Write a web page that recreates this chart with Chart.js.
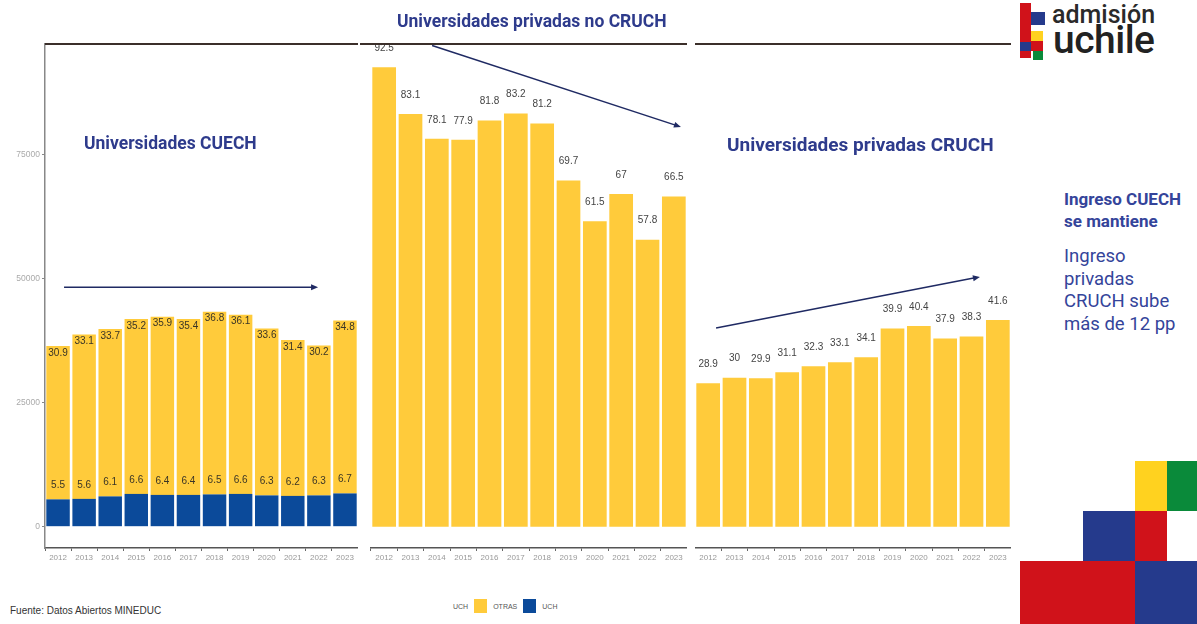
<!DOCTYPE html>
<html>
<head>
<meta charset="utf-8">
<script src="https://cdn.jsdelivr.net/npm/chart.js@4.4.1/dist/chart.umd.min.js"></script>
<style>
  body { margin: 0; width: 1197px; height: 624px; background: #fff; position: relative; overflow: hidden; font-family: Roboto, "Liberation Sans", sans-serif; }
  canvas { position: absolute; top: 0; }
  .titulo { position: absolute; font-weight: bold; color: #2e3b8c; white-space: nowrap; }
  .nota { position: absolute; left: 1064px; color: #34449a; white-space: nowrap; }
  .blk { position: absolute; }
  #fuente { position: absolute; left: 10px; top: 605px; font: 10px "Liberation Sans", Arial, sans-serif; color: #333; }
  #leyenda { position: absolute; left: 453px; top: 599px; font: 7px "Liberation Sans", Arial, sans-serif; color: #555; display: flex; align-items: center; gap: 6px; }
  #leyenda i { display: inline-block; width: 13px; height: 14px; }
</style>
</head>
<body>
<canvas id="g1" width="358" height="575" style="left:0px"></canvas>
<canvas id="g2" width="327" height="575" style="left:360px"></canvas>
<canvas id="g3" width="316" height="575" style="left:695px"></canvas>

<div class="titulo" style="left:84px;top:133px;font-size:17.5px">Universidades CUECH</div>
<div class="titulo" style="left:397px;top:11px;font-size:17.5px">Universidades privadas no CRUCH</div>
<div class="titulo" style="left:727px;top:133px;font-size:19px">Universidades privadas CRUCH</div>

<div class="nota" style="top:189px;font-weight:bold;font-size:17px;line-height:21.5px">Ingreso CUECH<br>se mantiene</div>
<div class="nota" style="top:245px;font-size:18.5px;line-height:22.7px">Ingreso<br>privadas<br>CRUCH sube<br>más de 12 pp</div>

<!-- logo -->
<div class="blk" style="left:1020px;top:3px;width:11px;height:55px;background:#d0121a"></div>
<div class="blk" style="left:1031px;top:12px;width:14px;height:13px;background:#253a8c"></div>
<div class="blk" style="left:1031px;top:31px;width:12px;height:10px;background:#ffd21f"></div>
<div class="blk" style="left:1031px;top:41px;width:12px;height:10px;background:#d0121a"></div>
<div class="blk" style="left:1020px;top:42px;width:11px;height:9px;background:#253a8c"></div>
<div class="blk" style="left:1033px;top:51px;width:10px;height:9px;background:#0a8a3a"></div>
<div style="position:absolute;left:1052px;top:0px;font-size:25px;color:#2a2a2a;font-weight:500">admisión</div>
<div style="position:absolute;left:1053px;top:17px;font-size:39px;color:#222;font-weight:500;letter-spacing:-0.5px">uchile</div>

<!-- bloques decorativos -->
<div class="blk" style="left:1135px;top:461px;width:32px;height:50px;background:#ffd21f"></div>
<div class="blk" style="left:1167px;top:461px;width:30px;height:50px;background:#0a8a3a"></div>
<div class="blk" style="left:1083px;top:511px;width:52px;height:50px;background:#253a8c"></div>
<div class="blk" style="left:1135px;top:511px;width:32px;height:50px;background:#d0121a"></div>
<div class="blk" style="left:1020px;top:561px;width:115px;height:63px;background:#d0121a"></div>
<div class="blk" style="left:1135px;top:561px;width:62px;height:63px;background:#253a8c"></div>

<div id="fuente">Fuente: Datos Abiertos MINEDUC</div>
<div id="leyenda"></div>

<script>
// Datos (miles de matriculados)
const anios = ['2012','2013','2014','2015','2016','2017','2018','2019','2020','2021','2022','2023'];
const cuechUch   = [5.5, 5.6, 6.1, 6.6, 6.4, 6.4, 6.5, 6.6, 6.3, 6.2, 6.3, 6.7];
const cuechOtras = [30.9, 33.1, 33.7, 35.2, 35.9, 35.4, 36.8, 36.1, 33.6, 31.4, 30.2, 34.8];
const privNoCruch = [92.5, 83.1, 78.1, 77.9, 81.8, 83.2, 81.2, 69.7, 61.5, 67, 57.8, 66.5];
const privCruch   = [28.9, 30, 29.9, 31.1, 32.3, 33.1, 34.1, 39.9, 40.4, 37.9, 38.3, 41.6];
const yTicks = [0, 25000, 50000, 75000];

const amarillo = '#ffcb3b';
const azul = '#0b4a9a';

// leyenda
const leyendaTitulo = 'UCH';
const leyendaItems = [['OTRAS', amarillo], ['UCH', azul]];
const ley = document.getElementById('leyenda');
ley.innerHTML = '<span>' + leyendaTitulo + '</span>' +
  leyendaItems.map(it => '<i style="background:' + it[1] + '"></i><span>' + it[0] + '</span>').join('');

// etiquetas de valores
const etiquetas = {
  id: 'etiquetas',
  afterDatasetsDraw(chart) {
    const ctx = chart.ctx;
    ctx.save();
    ctx.font = '10px "Liberation Sans", Arial, sans-serif';
    ctx.textAlign = 'center';
    ctx.textBaseline = 'middle';
    chart.data.datasets.forEach((ds, di) => {
      chart.getDatasetMeta(di).data.forEach((bar, i) => {
        let y = bar.y - 19;
        if (ds.pos === 'dentro') y = bar.y + 7;
        if (ds.pos === 'base') y = bar.y - 14;
        ctx.fillStyle = ds.pos ? '#3a3526' : '#444';
        ctx.fillText(String(ds.data[i]), bar.x, y);
      });
    });
    ctx.restore();
  }
};

// linea superior + flecha
const marco = {
  id: 'marco',
  afterDraw(chart, args, o) {
    const ctx = chart.ctx, a = chart.chartArea;
    ctx.save();
    ctx.strokeStyle = '#3b2f2a';
    ctx.lineWidth = 2;
    ctx.beginPath();
    ctx.moveTo(a.left - (o.extIzq || 0), a.top);
    ctx.lineTo(a.right, a.top);
    ctx.stroke();
    if (o.flecha) {
      const xs = chart.scales.x, ys = chart.scales.y;
      const x0 = xs.getPixelForValue(o.flecha[0]), y0 = ys.getPixelForValue(o.flecha[1]);
      const x1 = xs.getPixelForValue(o.flecha[2]), y1 = ys.getPixelForValue(o.flecha[3]);
      const ang = Math.atan2(y1 - y0, x1 - x0);
      ctx.strokeStyle = ctx.fillStyle = '#1f2a63';
      ctx.lineWidth = 1.5;
      ctx.beginPath();
      ctx.moveTo(x0, y0);
      ctx.lineTo(x1 - 5 * Math.cos(ang), y1 - 5 * Math.sin(ang));
      ctx.stroke();
      ctx.beginPath();
      ctx.moveTo(x1, y1);
      ctx.lineTo(x1 - 7 * Math.cos(ang) + 3 * Math.sin(ang), y1 - 7 * Math.sin(ang) - 3 * Math.cos(ang));
      ctx.lineTo(x1 - 7 * Math.cos(ang) - 3 * Math.sin(ang), y1 - 7 * Math.sin(ang) + 3 * Math.cos(ang));
      ctx.closePath();
      ctx.fill();
    }
    ctx.restore();
  }
};

function panel(id, datasets, conEjeY, flecha, padIzq) {
  new Chart(document.getElementById(id), {
    type: 'bar',
    data: { labels: anios, datasets: datasets },
    options: {
      responsive: false,
      animation: false,
      layout: { padding: { top: 44, left: padIzq || 0, right: 0, bottom: 0 } },
      datasets: { bar: { categoryPercentage: 1, barPercentage: 0.9, borderWidth: 0 } },
      plugins: { legend: { display: false }, tooltip: { enabled: false }, marco: { flecha: flecha, extIzq: padIzq || 0 } },
      scales: {
        x: {
          stacked: true,
          grid: { drawOnChartArea: false, drawTicks: true, tickLength: 3, color: '#666' },
          border: { display: true, color: '#555', width: 1.5 },
          ticks: { font: { size: 8, family: '"Liberation Sans", Arial' }, color: '#999', padding: 2, maxRotation: 0, autoSkip: false },
          afterFit: s => { s.height = 27; }
        },
        y: {
          stacked: true,
          display: conEjeY,
          min: -4.29,
          max: 97.2,
          afterBuildTicks: s => { s.ticks = yTicks.map(v => ({ value: v / 1000 })); },
          grid: { drawOnChartArea: false, tickLength: 3, color: '#888' },
          border: { display: true, color: '#888', width: 1.5 },
          ticks: { font: { size: 8.5, family: '"Liberation Sans", Arial' }, color: '#aaa', padding: 2, callback: v => String(Math.round(v * 1000)) },
          afterFit: s => { s.width = conEjeY ? 45 : 0; }
        }
      }
    },
    plugins: [etiquetas, marco]
  });
}

panel('g1', [
  { label: 'UCH', data: cuechUch, backgroundColor: azul, pos: 'base' },
  { label: 'OTRAS', data: cuechOtras, backgroundColor: amarillo, pos: 'dentro' }
], true, [0.23, 48.2, 9.97, 48.2]);

panel('g2', [
  { label: 'OTRAS', data: privNoCruch, backgroundColor: amarillo }
], false, [1.82, 96.9, 11.27, 80.5], 11);

panel('g3', [
  { label: 'OTRAS', data: privCruch, backgroundColor: amarillo }
], false, [0.30, 40.0, 10.32, 50.3]);
</script>
</body>
</html>
